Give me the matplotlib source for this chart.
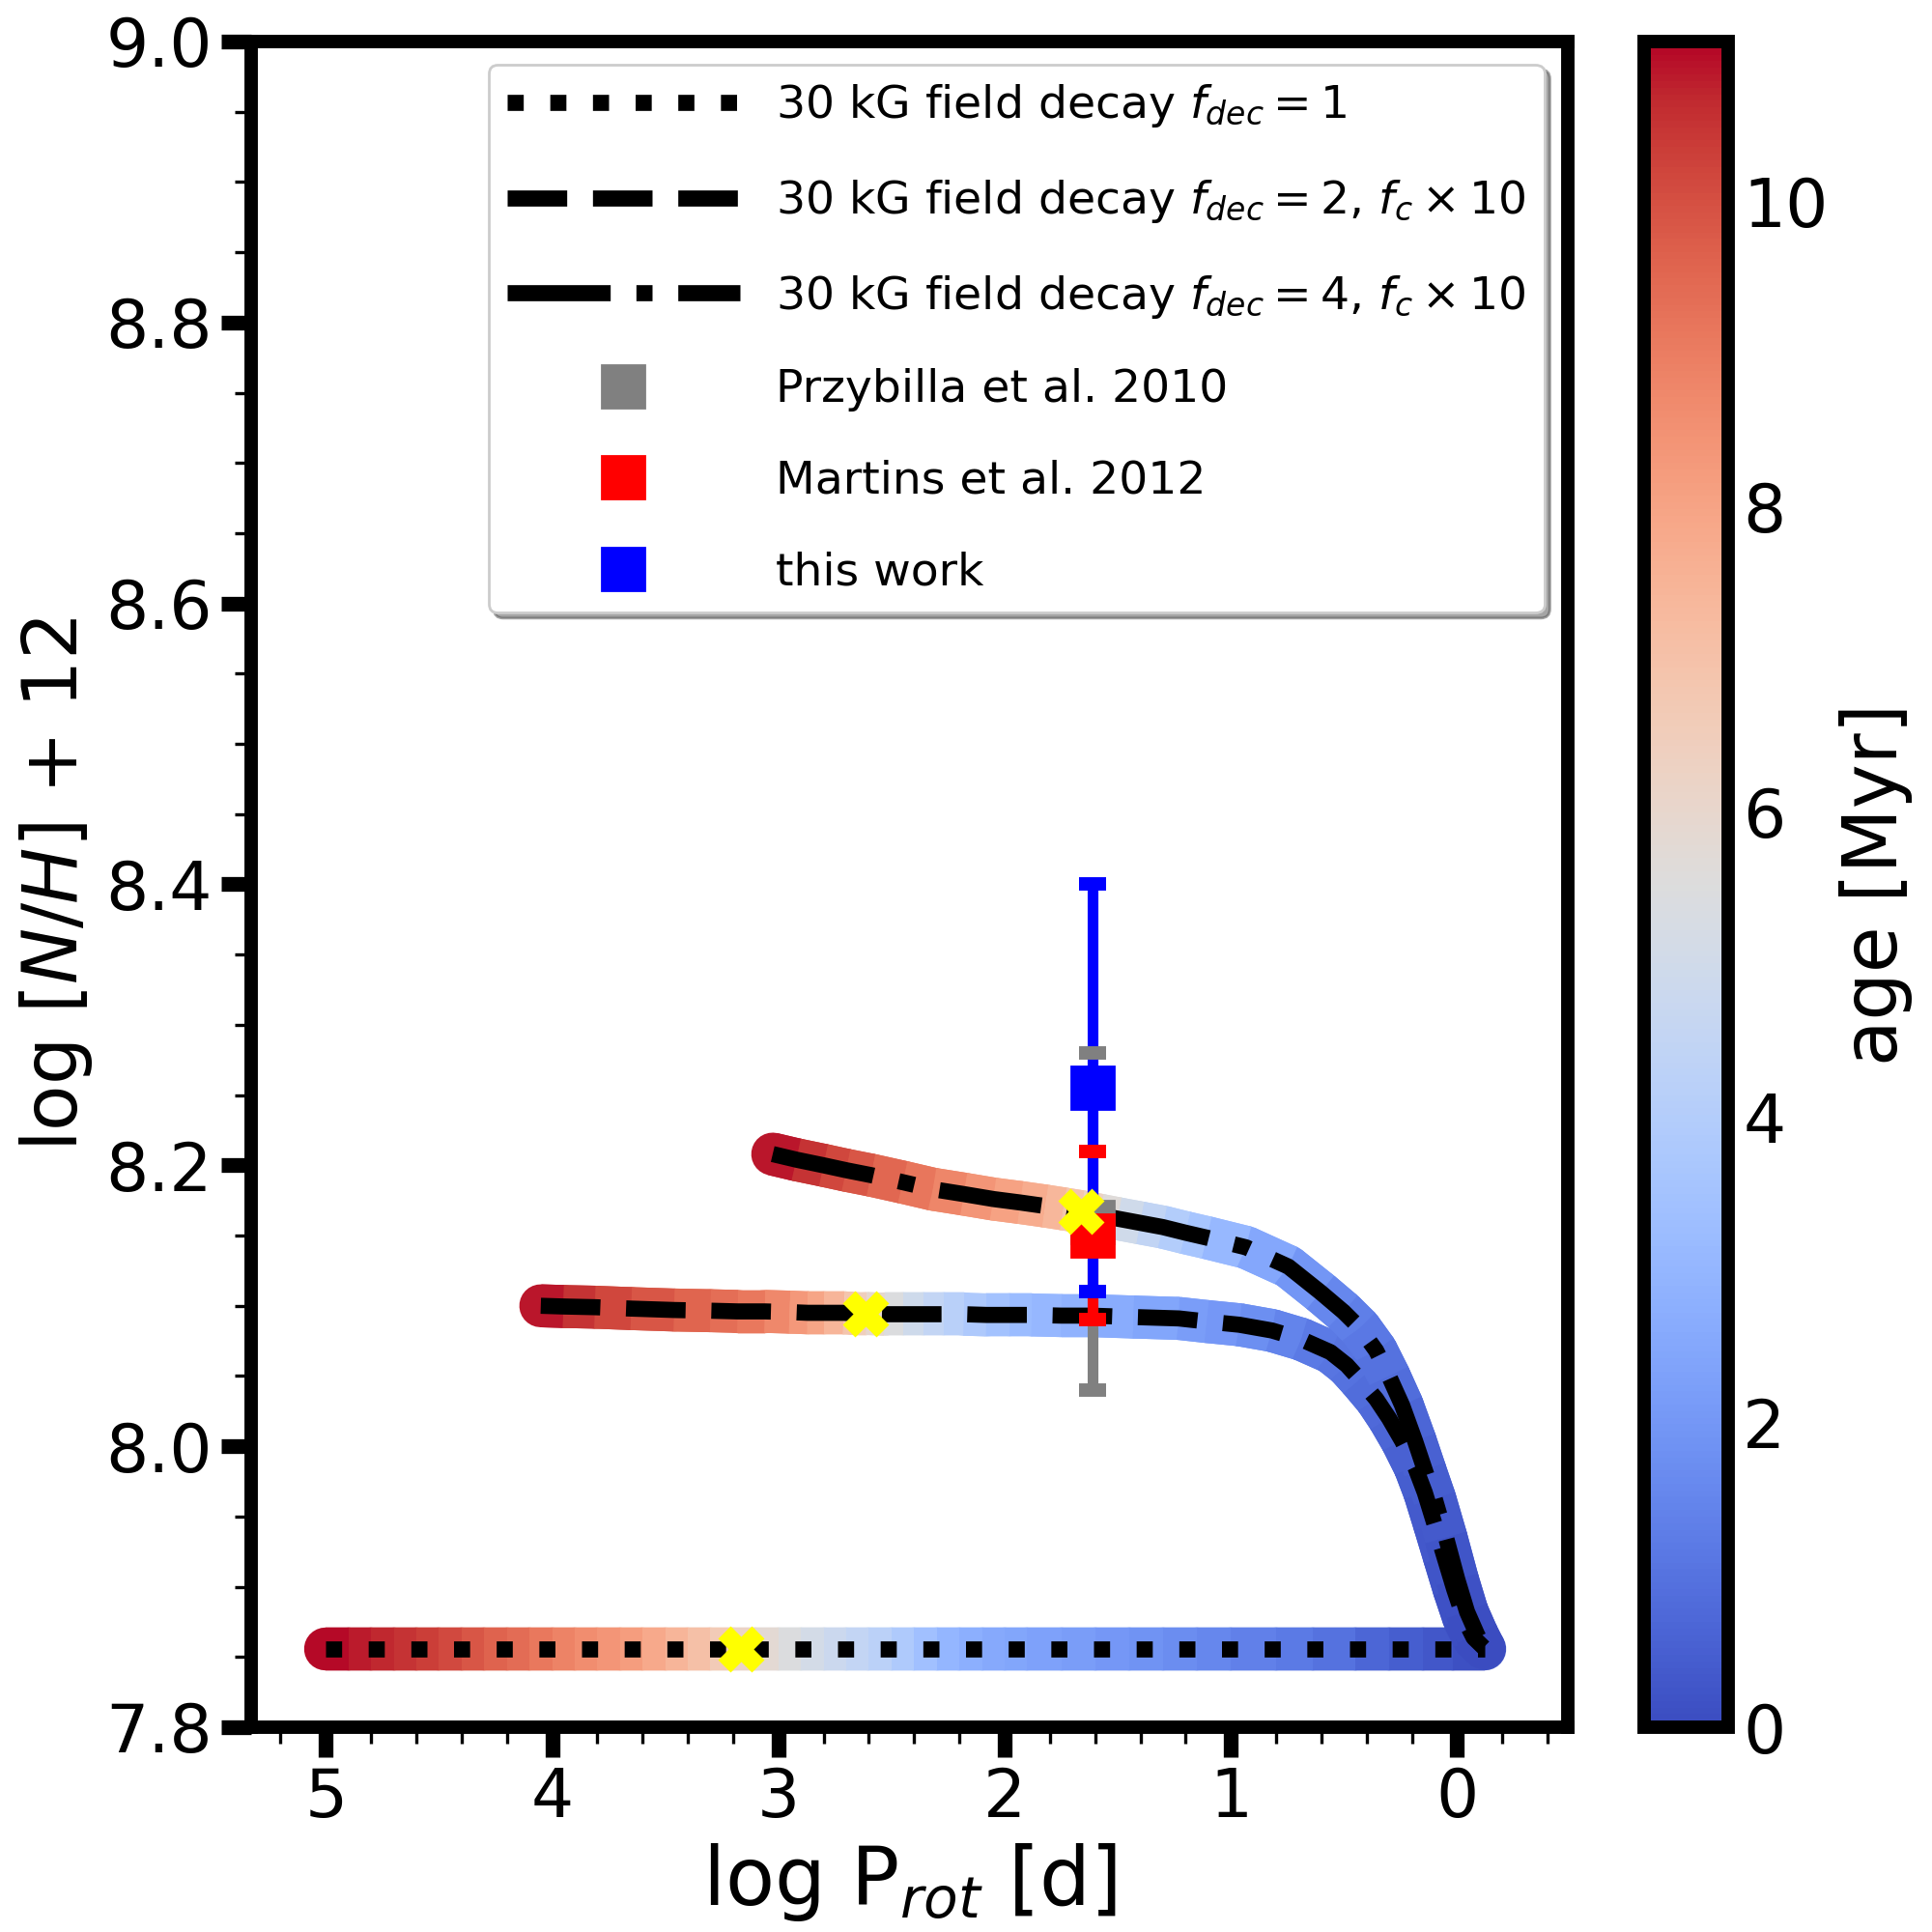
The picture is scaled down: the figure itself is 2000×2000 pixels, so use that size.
import numpy as np
import matplotlib
matplotlib.use('Agg')
import matplotlib.pyplot as plt
from matplotlib.collections import LineCollection
from matplotlib.colors import Normalize
from matplotlib.lines import Line2D
from matplotlib.ticker import MultipleLocator

# tracks go from old (slow rotation) to young
# f_dec = 1
p_dec1 = [5.0, 4.9, 4.8, 4.7, 4.6, 4.5, 4.4, 4.3, 4.2, 4.1, 4.0, 3.9, 3.8, 3.7, 3.6,
          3.5, 3.4, 3.3, 3.2, 3.1, 3.0, 2.9, 2.8, 2.7, 2.6, 2.5, 2.4, 2.3, 2.2, 2.1,
          2.0, 1.9, 1.75, 1.6, 1.45, 1.3, 1.15, 1.0, 0.8, 0.64, 0.45, 0.3, 0.15, 0.02, -0.12]
n_dec1 = [7.856] * len(p_dec1)
age_dec1 = [11.05, 10.9, 10.75, 10.6, 10.45, 10.25, 10.0, 9.75, 9.5, 9.25, 9.0, 8.75, 8.5,
            8.3, 8.05, 7.65, 7.25, 6.85, 6.4, 6.0, 5.65, 5.3, 4.95, 4.65, 4.4, 4.1, 3.6,
            3.2, 2.8, 2.65, 2.5, 2.4, 2.25, 2.1, 1.95, 1.8, 1.65, 1.45, 1.25, 1.1, 0.8,
            0.55, 0.35, 0.2, 0.0]

# f_dec = 2, f_c x 10
p_dec2 = [4.05, 3.95, 3.81, 3.65, 3.46, 3.3, 3.18, 3.06, 2.95, 2.87, 2.80, 2.71, 2.66,
          2.61, 2.53, 2.45, 2.36, 2.27, 2.18, 2.08, 1.98, 1.88, 1.75, 1.62, 1.43, 1.23,
          1.106, 0.962, 0.818, 0.689, 0.560, 0.488, 0.430, 0.358, 0.301, 0.243, 0.186,
          0.143, 0.099, 0.056, 0.013, -0.030, -0.073, -0.117]
n_dec2 = [8.100, 8.0995, 8.099, 8.098, 8.097, 8.0965, 8.096, 8.096, 8.0955, 8.095, 8.095,
          8.095, 8.0945, 8.0945, 8.094, 8.094, 8.094, 8.094, 8.094, 8.0935, 8.0935, 8.0935,
          8.093, 8.093, 8.092, 8.091, 8.0888, 8.0865, 8.0824, 8.0762, 8.0670, 8.0578,
          8.0475, 8.0337, 8.0199, 8.0038, 7.9854, 7.9671, 7.9441, 7.9211, 7.8982, 7.8775,
          7.8637, 7.8568]
age_dec2 = [11.05, 10.7, 10.3, 10.0, 9.7, 9.45, 9.25, 9.0, 8.5, 8.1, 7.8, 7.1, 6.7,
            6.2, 5.7, 5.2, 4.7, 4.3, 4.0, 3.6, 3.35, 3.1, 2.95, 2.8, 2.55, 2.3,
            2.1, 1.9, 1.6, 1.3, 1.1, 1.0, 0.9, 0.8, 0.7, 0.6, 0.5,
            0.42, 0.35, 0.27, 0.18, 0.1, 0.05, 0.0]

# f_dec = 4, f_c x 10
p_dec4 = [3.025, 2.92, 2.8, 2.7, 2.59, 2.45, 2.317, 2.18, 2.05, 1.93, 1.82, 1.74, 1.663,
          1.58, 1.5, 1.4, 1.3, 1.2, 1.106, 0.933, 0.746, 0.603, 0.502, 0.430, 0.358,
          0.301, 0.243, 0.186, 0.143, 0.099, 0.049, -0.001, -0.044, -0.088, -0.117]
n_dec4 = [8.208, 8.204, 8.200, 8.1965, 8.193, 8.188, 8.183, 8.1795, 8.176, 8.1735, 8.171,
          8.169, 8.167, 8.1645, 8.162, 8.159, 8.156, 8.152, 8.1485, 8.1416, 8.1279,
          8.1095, 8.0957, 8.0842, 8.0681, 8.0498, 8.0291, 8.0038, 7.9831, 7.9625,
          7.9349, 7.9050, 7.8821, 7.8660, 7.8568]
age_dec4 = [11.05, 10.7, 10.3, 10.0, 9.7, 9.35, 9.0, 8.6, 8.2, 7.9, 7.6, 7.2, 6.6,
            5.95, 5.3, 4.7, 4.2, 3.8, 3.4, 2.8, 2.2, 1.7, 1.4, 1.2, 1.05,
            0.9, 0.75, 0.6, 0.5, 0.4, 0.3, 0.2, 0.12, 0.05, 0.0]

# yellow crosses on the tracks
cross_p = [3.164, 2.616, 1.663]
cross_n = [7.856, 8.0945, 8.167]

# observations
obs_names = ['Przybilla et al. 2010', 'Martins et al. 2012', 'this work']
obs_p = [1.61, 1.61, 1.61]
obs_n = [8.16, 8.15, 8.255]
obs_err = [0.12, 0.06, 0.145]
obs_col = ['gray', 'red', 'blue']

track_labels = [r'30 kG field decay $f_{dec} = 1$',
                r'30 kG field decay $f_{dec} = 2$, $f_c \times 10$',
                r'30 kG field decay $f_{dec} = 4$, $f_c \times 10$']
track_styles = [':', '--', '-.']

age_max = 11.05
norm = Normalize(0, age_max)

fig = plt.figure(figsize=(10, 10), dpi=200)
ax = fig.add_axes([0.130, 0.106, 0.68125, 0.8725])
cax = fig.add_axes([0.851, 0.106, 0.0435, 0.8725])


def colored_track(logp, nh, age):
    pts = np.column_stack([logp, nh]).reshape(-1, 1, 2)
    segs = np.concatenate([pts[:-1], pts[1:]], axis=1)
    a = np.asarray(age)
    seg_age = 0.5 * (a[:-1] + a[1:])
    # round caps underneath fill the bends and the ends,
    # butt caps on top keep the colour steps straight
    out = []
    for cap in ['round', 'butt']:
        lc = LineCollection(segs, cmap='coolwarm', norm=norm, linewidths=16,
                            capstyle=cap, zorder=2)
        lc.set_array(seg_age)
        ax.add_collection(lc)
        out.append(lc)
    return out[-1]


tracks = [(p_dec1, n_dec1, age_dec1), (p_dec2, n_dec2, age_dec2), (p_dec4, n_dec4, age_dec4)]
for (p, n, a), ls in zip(tracks, track_styles):
    lc = colored_track(p, n, a)
    ax.plot(p, n, color='k', ls=ls, lw=6, zorder=3)

for i in range(3):
    eb = ax.errorbar(obs_p[i], obs_n[i], yerr=obs_err[i], fmt='s', color=obs_col[i],
                     ms=16, elinewidth=4, capsize=5, capthick=5)
    eb[0].set_zorder(6 + 0.1 * i)
    for c in eb[1]:
        c.set_zorder(5 + 0.1 * i)
    for b in eb[2]:
        b.set_zorder(4 + 0.1 * i)

ax.plot(cross_p, cross_n, 'X', color='yellow', ms=16, ls='none', zorder=7)

ax.set_xlim(5.33, -0.487)
ax.set_ylim(7.8, 9.0)
ax.xaxis.set_major_locator(MultipleLocator(1))
ax.xaxis.set_minor_locator(MultipleLocator(0.2))
ax.yaxis.set_major_locator(MultipleLocator(0.2))
ax.yaxis.set_minor_locator(MultipleLocator(0.05))
ax.tick_params(which='major', length=11, width=5.5, labelsize=25)
ax.tick_params(which='minor', length=6, width=1.2)
for s in ax.spines.values():
    s.set_linewidth(5)

ax.set_xlabel(r'log P$_{rot}$ [d]', fontsize=30)
ax.set_ylabel(r'log $[N/H]$ + 12', fontsize=28)

handles = [Line2D([], [], color='k', ls=ls, lw=6) for ls in track_styles]
handles += [Line2D([], [], color=c, marker='s', ls='none', ms=16) for c in obs_col]
ax.legend(handles, track_labels + obs_names, loc='upper right', fontsize=17,
          handlelength=5.1, labelspacing=1.05, shadow=True)

cb = fig.colorbar(lc, cax=cax)
cb.outline.set_linewidth(5)
cb.set_ticks([0, 2, 4, 6, 8, 10])
cb.ax.tick_params(labelsize=25, length=0, pad=5.5)
cb.set_label('age [Myr]', fontsize=28)

fig.savefig('out.png', dpi=200)
